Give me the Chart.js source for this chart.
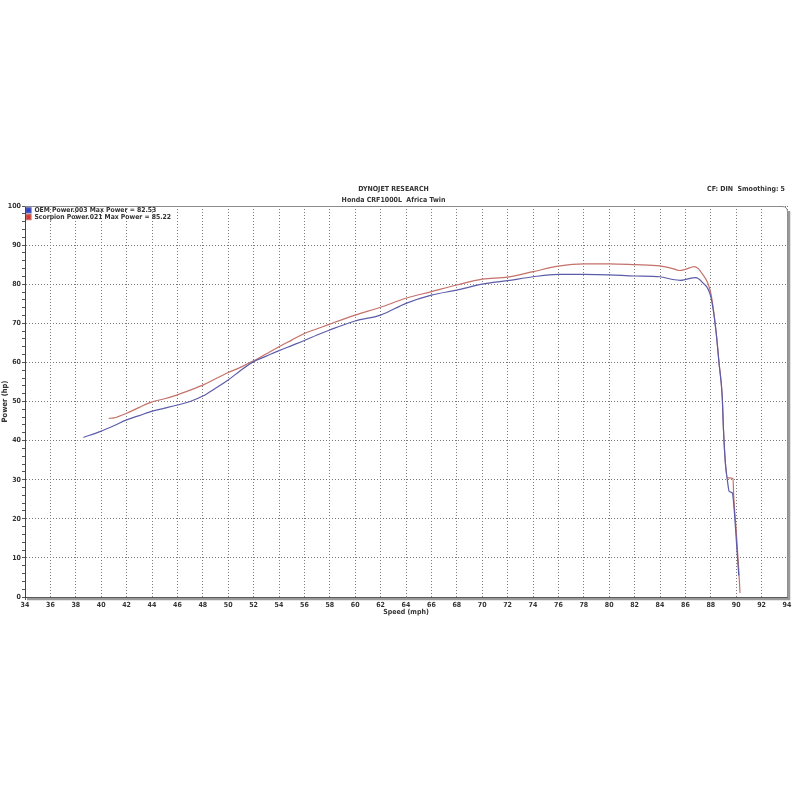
<!DOCTYPE html>
<html>
<head>
<meta charset="utf-8">
<script src="https://cdn.jsdelivr.net/npm/chart.js@4.4.1/dist/chart.umd.min.js"></script>
<style>
  html, body { margin: 0; padding: 0; background: #fff; }
</style>
</head>
<body>
<canvas id="dyno" width="800" height="800"></canvas>
<script>
// Dyno run data (speed in mph, power in hp)
const oemSpeed = [38.6, 39.9, 41.0, 42.0, 43.0, 44.1, 45.0, 46.0, 47.0, 48.0, 49.0, 50.0, 51.0, 52.0, 53.0, 54.0,
  55.0, 56.0, 57.0, 58.0, 60.0, 62.0, 64.0, 66.0, 68.0, 70.0, 72.0, 74.0, 76.0, 78.0, 80.0, 82.0, 84.0, 85.0, 85.6,
  86.0, 86.8, 87.3, 88.0, 88.4, 88.65, 88.9, 89.0, 89.15, 89.3, 89.45, 89.7, 89.8, 90.0, 90.2];
const oemPower = [40.8, 42.3, 43.8, 45.3, 46.4, 47.6, 48.3, 49.1, 50.0, 51.4, 53.4, 55.5, 58.0, 60.2, 61.6, 63.0,
  64.3, 65.6, 67.0, 68.3, 70.6, 72.1, 75.1, 77.2, 78.5, 80.0, 80.9, 81.9, 82.5, 82.5, 82.4, 82.1, 81.9, 81.2, 81.0,
  81.2, 81.7, 80.6, 76.8, 68.3, 59.8, 51.2, 42.7, 34.2, 30.0, 27.0, 26.6, 24.0, 15.0, 5.5];

const scorpionSpeed = [40.6, 41.0, 42.0, 43.0, 44.0, 45.0, 46.0, 47.0, 48.0, 49.0, 50.0, 51.0, 52.0, 53.0, 54.0,
  55.0, 56.0, 57.0, 58.0, 60.0, 62.0, 64.0, 66.0, 68.0, 70.0, 72.0, 74.0, 76.0, 78.0, 80.0, 82.0, 84.0, 85.0, 85.5,
  86.0, 86.7, 87.3, 88.0, 88.4, 88.65, 88.9, 89.0, 89.15, 89.3, 89.75, 89.8, 90.0, 90.2, 90.3];
const scorpionPower = [45.7, 45.8, 47.0, 48.5, 49.9, 50.7, 51.7, 52.9, 54.2, 55.8, 57.4, 58.8, 60.4, 62.2, 64.0,
  65.7, 67.4, 68.6, 69.8, 72.1, 74.1, 76.4, 78.1, 79.8, 81.3, 81.8, 83.2, 84.6, 85.2, 85.2, 85.0, 84.7, 84.0, 83.5,
  83.8, 84.5, 82.8, 77.7, 68.3, 59.8, 51.2, 42.7, 34.2, 30.5, 30.3, 26.0, 17.0, 7.0, 1.0];

const seriesLabels = ['OEM Power.003 Max Power = 82.53', 'Scorpion Power.021 Max Power = 85.22'];
const titleLines = ['DYNOJET RESEARCH', 'Honda CRF1000L  Africa Twin'];
const cornerNote = 'CF: DIN  Smoothing: 5';

const FONT = '"DejaVu Sans Condensed", "DejaVu Sans", sans-serif';
const TEXT = '#333';

const toPoints = (xs, ys) => xs.map((x, i) => ({ x: x, y: ys[i] }));

// legend sits inside the plot, top left (position 'chartArea' leaves it at the canvas top)
const legendInside = {
  id: 'legendInside',
  afterLayout(chart) {
    const lg = chart.legend;
    const a = chart.chartArea;
    if (!lg) return;
    lg.left = a.left + 1;
    lg.top = a.top + 1;
    lg.bottom = a.bottom;
    lg.right = a.right;
  }
};

// note top right + shadowed frame round the plot
const sheetPlugin = {
  id: 'sheet',
  afterDraw(chart) {
    const { ctx, chartArea: a } = chart;
    ctx.save();
    ctx.font = 'bold 7px ' + FONT;
    ctx.fillStyle = TEXT;
    ctx.textAlign = 'right';
    ctx.textBaseline = 'middle';
    ctx.fillText(cornerNote, a.right - 2, 189);

    ctx.strokeStyle = '#8a8a8a';
    ctx.lineWidth = 1;
    ctx.beginPath();
    ctx.moveTo(a.left, a.top + 0.5);
    ctx.lineTo(a.right - 5, a.top + 0.5);
    ctx.quadraticCurveTo(a.right + 0.5, a.top + 0.5, a.right + 0.5, a.top + 6);
    ctx.lineTo(a.right + 0.5, a.bottom);
    ctx.stroke();

    ctx.strokeStyle = '#9a9a9a';
    ctx.lineWidth = 2.5;
    ctx.beginPath();
    ctx.moveTo(a.right + 2, a.top + 5);
    ctx.lineTo(a.right + 2, a.bottom + 2);
    ctx.lineTo(a.left + 2, a.bottom + 2);
    ctx.stroke();
    ctx.restore();
  }
};

new Chart(document.getElementById('dyno'), {
  type: 'line',
  data: {
    datasets: [
      {
        label: seriesLabels[0],
        data: toPoints(oemSpeed, oemPower),
        borderColor: '#5c5caa',
        backgroundColor: '#2544d8',
        borderWidth: 1.2,
      },
      {
        label: seriesLabels[1],
        data: toPoints(scorpionSpeed, scorpionPower),
        borderColor: '#c4716a',
        backgroundColor: '#e0322e',
        borderWidth: 1.2,
      }
    ]
  },
  options: {
    responsive: false,
    animation: false,
    layout: { padding: { top: 183, right: 13, bottom: 183, left: 0 } },
    elements: {
      point: { radius: 0 },
      line: { cubicInterpolationMode: 'monotone', fill: false }
    },
    plugins: {
      title: {
        display: true,
        text: titleLines,
        color: TEXT,
        font: { family: FONT, size: 7, weight: 'bold', lineHeight: 11 / 7 },
        padding: { top: 0.5, bottom: 0.5 }
      },
      legend: {
        position: 'chartArea',
        align: 'start',
        labels: {
          boxWidth: 5,
          boxHeight: 5,
          padding: 0,
          color: TEXT,
          font: { family: FONT, size: 6.8, weight: 'bold' }
        }
      },
      tooltip: { enabled: false }
    },
    scales: {
      x: {
        type: 'linear',
        min: 34,
        max: 94,
        afterFit: (s) => { s.height = 20; },
        title: {
          display: true,
          text: 'Speed (mph)',
          color: TEXT,
          font: { family: FONT, size: 7, weight: 'bold', lineHeight: 1 },
          padding: { top: 0, bottom: 1 }
        },
        ticks: {
          stepSize: 0.5,
          autoSkip: false,
          maxRotation: 0,
          padding: 1,
          color: TEXT,
          font: { family: FONT, size: 7, weight: 'bold' },
          callback: (v) => (v % 2 === 0 ? v : '')
        },
        grid: {
          color: (c) => (c.tick && c.tick.value % 2 === 0 ? '#7a7a7a' : 'rgba(0,0,0,0)'),
          tickColor: '#555',
          tickLength: 3,
          lineWidth: 1
        },
        border: { color: '#444', width: 1, dash: [1, 2] }
      },
      y: {
        min: 0,
        max: 100,
        afterFit: (s) => { s.width = 25; },
        title: {
          display: true,
          text: 'Power (hp)',
          color: TEXT,
          font: { family: FONT, size: 7.5, weight: 'bold', lineHeight: 1.2 },
          padding: { top: 1, bottom: 0 }
        },
        ticks: {
          stepSize: 2,
          autoSkip: false,
          padding: 1,
          color: TEXT,
          font: { family: FONT, size: 7, weight: 'bold' },
          callback: (v) => (v % 10 === 0 ? v : '')
        },
        grid: {
          color: (c) => (c.tick && c.tick.value % 10 === 0 ? '#7a7a7a' : 'rgba(0,0,0,0)'),
          tickColor: '#555',
          tickLength: 3,
          lineWidth: 1
        },
        border: { color: '#444', width: 1, dash: [1, 2] }
      }
    }
  },
  plugins: [legendInside, sheetPlugin]
});
</script>
</body>
</html>
